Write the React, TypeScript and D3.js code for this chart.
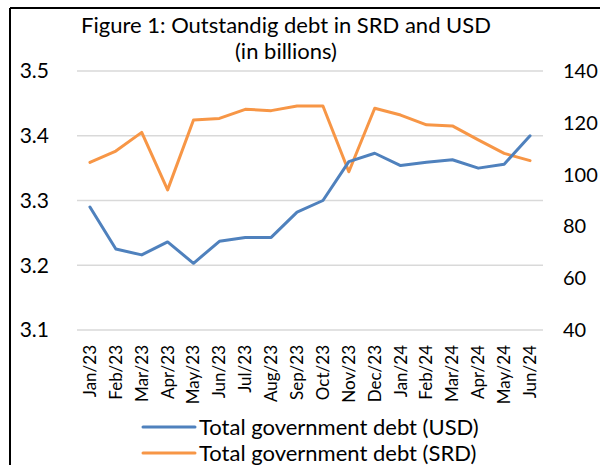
import React from "react";
import * as d3 from "d3";

const categories = ["Jan/23","Feb/23","Mar/23","Apr/23","May/23","Jun/23","Jul/23","Aug/23","Sep/23","Oct/23","Nov/23","Dec/23","Jan/24","Feb/24","Mar/24","Apr/24","May/24","Jun/24"];
const usdDebt = [3.290,3.225,3.216,3.236,3.203,3.237,3.243,3.243,3.282,3.300,3.360,3.373,3.354,3.359,3.363,3.350,3.356,3.400];
const srdDebt = [104.7,109.1,116.3,94.1,121.1,121.7,125.2,124.7,126.5,126.5,101.1,125.6,123.0,119.2,118.8,113.4,108.2,105.4];
const leftTicks = [3.1,3.2,3.3,3.4,3.5];
const rightTicks = [40,60,80,100,120,140];
const seriesNames = ["Total government debt (USD)","Total government debt (SRD)"];
const titleLines = ["Figure 1: Outstandig debt in SRD and USD","(in billions)"];

const BLUE = "#4f81bd";
const ORANGE = "#f79646";
const FONT = "Lato, 'Open Sans', sans-serif";

export default function App() {
  const W = 600, H = 465;
  const left = 77, right = 543, top = 71, bottom = 330;
  const x = d3.scaleBand<string>().domain(categories).range([left, right]);
  const yL = d3.scaleLinear().domain([3.1, 3.5]).range([bottom, top]);
  const yR = d3.scaleLinear().domain([40, 140]).range([bottom, top]);
  const cx = (c: string) => (x(c) as number) + x.bandwidth() / 2;
  const lineL = d3.line<number>().x((_, i) => cx(categories[i])).y(d => yL(d));
  const lineR = d3.line<number>().x((_, i) => cx(categories[i])).y(d => yR(d));

  return (
    <svg width={W} height={H} style={{ position: "absolute", left: 0, top: 0, background: "#fff" }} fontFamily={FONT}>
      <rect x={0} y={0} width={W} height={H} fill="#fff" />
      <line x1={10} y1={8} x2={W} y2={8} stroke="#000" strokeWidth={2} />
      <line x1={10} y1={8} x2={10} y2={H} stroke="#000" strokeWidth={2} />
      <text x={286} y={33} textAnchor="middle" fontSize={22} fill="#000">{titleLines[0]}</text>
      <text x={286} y={59} textAnchor="middle" fontSize={22} fill="#000">{titleLines[1]}</text>
      {leftTicks.map(t => (
        <g key={"l" + t}>
          <line x1={left} x2={right} y1={yL(t)} y2={yL(t)} stroke="#d9d9d9" strokeWidth={1.5} />
          <text x={49} y={yL(t)} dy="0.35em" textAnchor="end" fontSize={21} fill="#000">{t.toFixed(1)}</text>
        </g>
      ))}
      {rightTicks.map(t => (
        <text key={"r" + t} x={563} y={yR(t)} dy="0.35em" textAnchor="start" fontSize={20} fill="#000">{t}</text>
      ))}
      {categories.map(c => (
        <text key={c} transform={`translate(${cx(c)},${bottom + 15}) rotate(-90)`} textAnchor="end" dy="0.35em" fontSize={17} fill="#000">{c}</text>
      ))}
      <path d={lineR(srdDebt) || ""} fill="none" stroke={ORANGE} strokeWidth={3} strokeLinejoin="round" strokeLinecap="round" />
      <path d={lineL(usdDebt) || ""} fill="none" stroke={BLUE} strokeWidth={3} strokeLinejoin="round" strokeLinecap="round" />
      <g>
        <line x1={143} x2={195} y1={427} y2={427} stroke={BLUE} strokeWidth={3} strokeLinecap="round" />
        <text x={199} y={427} dy="0.35em" fontSize={22} fill="#000">{seriesNames[0]}</text>
        <line x1={143} x2={195} y1={453} y2={453} stroke={ORANGE} strokeWidth={3} strokeLinecap="round" />
        <text x={199} y={453} dy="0.35em" fontSize={22} fill="#000">{seriesNames[1]}</text>
      </g>
    </svg>
  );
}
